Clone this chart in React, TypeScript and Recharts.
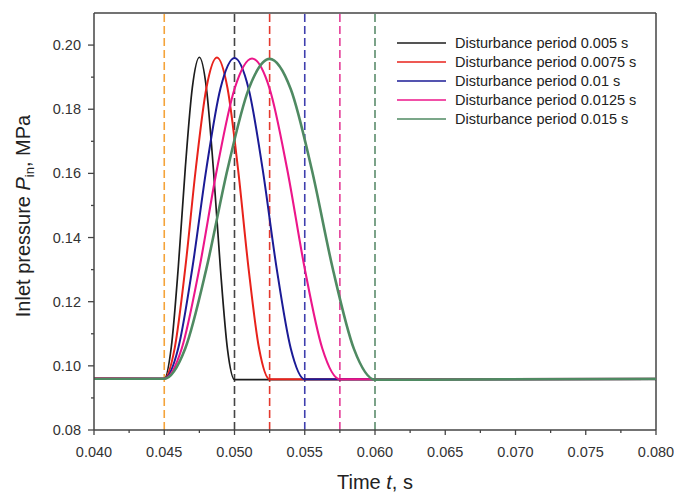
import { LineChart, Line, XAxis, YAxis, ReferenceLine, Legend, Label } from 'recharts';

// pulse traces (time in s, inlet pressure in MPa)
const t005 = [0.04, 0.045, 0.0455, 0.046, 0.0465, 0.047, 0.0475, 0.048, 0.0485, 0.049, 0.0495, 0.05, 0.08];
const p005 = [0.0960, 0.0960, 0.1058, 0.1308, 0.1618, 0.1868, 0.1962, 0.1866, 0.1612, 0.1302, 0.1052, 0.0957, 0.0958];

const t0075 = [0.04, 0.045, 0.04575, 0.0465, 0.04725, 0.048, 0.04875, 0.0495, 0.05025, 0.051, 0.05175, 0.0525, 0.08];
const p0075 = [0.0961, 0.0960, 0.1057, 0.1306, 0.1616, 0.1866, 0.1961, 0.1866, 0.1614, 0.1304, 0.1054, 0.0958, 0.0959];

const t01 = [0.04, 0.045, 0.046, 0.047, 0.048, 0.049, 0.05, 0.051, 0.052, 0.053, 0.054, 0.055, 0.08];
const p01 = [0.0960, 0.0960, 0.1056, 0.1305, 0.1615, 0.1865, 0.1960, 0.1865, 0.1614, 0.1304, 0.1055, 0.0958, 0.0959];

const t0125 = [0.04, 0.045, 0.04625, 0.0475, 0.04875, 0.05, 0.05125, 0.0525, 0.05375, 0.055, 0.05625, 0.0575, 0.08];
const p0125 = [0.0961, 0.0960, 0.1055, 0.1304, 0.1613, 0.1863, 0.1958, 0.1864, 0.1613, 0.1303, 0.1054, 0.0958, 0.0960];

const t015 = [0.04, 0.045, 0.0465, 0.048, 0.0495, 0.051, 0.0525, 0.054, 0.0555, 0.057, 0.0585, 0.06, 0.08];
const p015 = [0.0960, 0.0960, 0.1055, 0.1303, 0.1612, 0.1862, 0.1957, 0.1863, 0.1612, 0.1302, 0.1053, 0.0957, 0.0960];

const seriesNames = [
    'Disturbance period 0.005 s',
    'Disturbance period 0.0075 s',
    'Disturbance period 0.01 s',
    'Disturbance period 0.0125 s',
    'Disturbance period 0.015 s',
];
const seriesColors = ['#1c1c1c', '#e8221b', '#1b1b96', '#ec168a', '#4f8a62'];
const seriesWidths = [1.7, 2, 2, 2.1, 2.6];

// dashed markers: start of disturbance and end of each period
const markerTimes = [0.045, 0.05, 0.0525, 0.055, 0.0575, 0.06];
const markerColors = ['#f4a33a', '#444444', '#e3392e', '#3f3fae', '#e43d98', '#5b8c6c'];

const xMajor = [0.04, 0.045, 0.05, 0.055, 0.06, 0.065, 0.07, 0.075, 0.08];
const xMinor = [0.0425, 0.0475, 0.0525, 0.0575, 0.0625, 0.0675, 0.0725, 0.0775];
const yMajor = [0.08, 0.1, 0.12, 0.14, 0.16, 0.18, 0.2];
const yMinor = [0.09, 0.11, 0.13, 0.15, 0.17, 0.19];

const toPoints = (ts: number[], ps: number[]) => ts.map((t, i) => ({ t, p: ps[i] }));
const series = [
    toPoints(t005, p005),
    toPoints(t0075, p0075),
    toPoints(t01, p01),
    toPoints(t0125, p0125),
    toPoints(t015, p015),
];

const font = '"Liberation Sans", Arial, sans-serif';
const axisColor = '#444';
const isIn = (list: number[], v: number) => list.some((m) => Math.abs(m - v) < 1e-9);

const XTick = (props: any) => {
    const { x, y, payload } = props;
    const major = isIn(xMajor, payload.value);
    return (
        <g>
            <line x1={x} x2={x} y1={y} y2={y + (major ? 5 : 3)} stroke={axisColor} strokeWidth={1.3} />
            {major && (
                <text x={x} y={y + 27} textAnchor="middle" fontSize={14.5} fontFamily={font} fill="#333">
                    {payload.value.toFixed(3)}
                </text>
            )}
        </g>
    );
};

const YTick = (props: any) => {
    const { x, y, payload } = props;
    const major = isIn(yMajor, payload.value);
    return (
        <g>
            <line x1={x} x2={x - (major ? 6 : 3)} y1={y} y2={y} stroke={axisColor} strokeWidth={1.3} />
            {major && (
                <text x={x - 13} y={y + 5} textAnchor="end" fontSize={14.5} fontFamily={font} fill="#333">
                    {payload.value.toFixed(2)}
                </text>
            )}
        </g>
    );
};

const LegendBox = () => (
    <div style={{ fontFamily: font, fontSize: 14.5, color: '#222' }}>
        {seriesNames.map((name, i) => (
            <div key={name} style={{ display: 'flex', alignItems: 'center', height: 19 }}>
                <svg width={49} height={4} style={{ marginRight: 9 }}>
                    <line x1={0} x2={49} y1={2} y2={2} stroke={seriesColors[i]} strokeWidth={1.6} />
                </svg>
                <span style={{ whiteSpace: 'nowrap' }}>{name}</span>
            </div>
        ))}
    </div>
);

export default function App() {
    return (
        <div style={{ position: 'absolute', left: 0, top: 0, background: '#fff' }}>
            <LineChart width={674} height={495} margin={{ top: 13, right: 18, left: 0, bottom: 0 }}>
                <XAxis
                    dataKey="t"
                    type="number"
                    domain={[0.04, 0.08]}
                    ticks={[...xMajor, ...xMinor].sort((a, b) => a - b)}
                    tickSize={0}
                    tickMargin={0}
                    tickLine={false}
                    tick={<XTick />}
                    axisLine={{ stroke: axisColor, strokeWidth: 1.5 }}
                    height={65}
                    allowDataOverflow
                    interval={0}
                >
                    <Label
                        content={({ viewBox }: any) => (
                            <text
                                x={viewBox.x + viewBox.width / 2}
                                y={489}
                                textAnchor="middle"
                                fontSize={20}
                                fontFamily={font}
                                fill="#222"
                            >
                                Time <tspan fontStyle="italic">t</tspan>, s
                            </text>
                        )}
                    />
                </XAxis>
                <YAxis
                    type="number"
                    domain={[0.08, 0.21]}
                    ticks={[...yMajor, ...yMinor].sort((a, b) => a - b)}
                    tickSize={0}
                    tickMargin={0}
                    tickLine={false}
                    tick={<YTick />}
                    axisLine={{ stroke: axisColor, strokeWidth: 1.5 }}
                    width={94}
                    allowDataOverflow
                    interval={0}
                >
                    <Label
                        content={() => (
                            <text
                                x={30}
                                y={216}
                                transform="rotate(-90, 30, 216)"
                                textAnchor="middle"
                                fontSize={20}
                                fontFamily={font}
                                fill="#222"
                            >
                                Inlet pressure <tspan fontStyle="italic">P</tspan>
                                <tspan fontSize={13} dy={4}>in</tspan>
                                <tspan dy={-4}>, MPa</tspan>
                            </text>
                        )}
                    />
                </YAxis>
                <ReferenceLine y={0.21} stroke={axisColor} strokeWidth={1.5} />
                <ReferenceLine x={0.08} stroke={axisColor} strokeWidth={1.5} />
                {markerTimes.map((t, i) => (
                    <ReferenceLine
                        key={t}
                        x={t}
                        stroke={markerColors[i]}
                        strokeWidth={1.6}
                        strokeDasharray="8 4"
                    />
                ))}
                {series.map((data, i) => (
                    <Line
                        key={seriesNames[i]}
                        data={data}
                        dataKey="p"
                        name={seriesNames[i]}
                        type="monotone"
                        stroke={seriesColors[i]}
                        strokeWidth={seriesWidths[i]}
                        dot={false}
                        isAnimationActive={false}
                    />
                ))}
                <Legend
                    layout="vertical"
                    align="center"
                    verticalAlign="middle"
                    wrapperStyle={{ top: 33, left: 397, width: 260 }}
                    content={() => <LegendBox />}
                />
            </LineChart>
        </div>
    );
}
